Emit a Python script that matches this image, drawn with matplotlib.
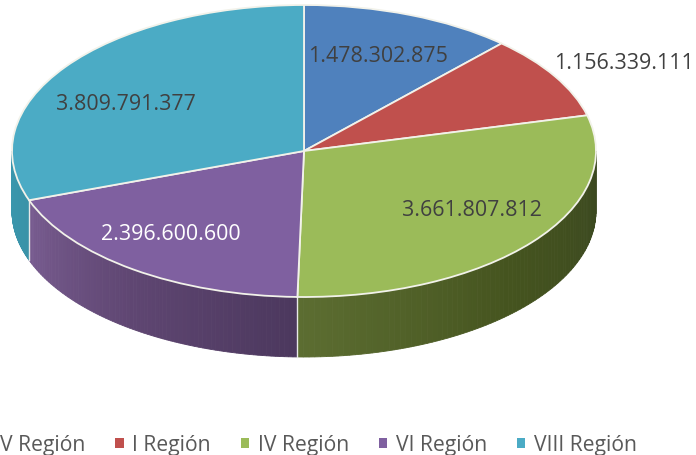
import numpy as np
import matplotlib
matplotlib.use('Agg')
import matplotlib.pyplot as plt
from matplotlib.colors import to_rgb, LinearSegmentedColormap

regions = ['V Región', 'I Región', 'IV Región', 'VI Región', 'VIII Región']
values = [1478302875, 1156339111, 3661807812, 2396600600, 3809791377]
colors = ['#4f81bd', '#c0504d', '#9bbb59', '#7f60a0', '#4babc5']
label_colors = ['#404040', '#404040', '#404040', 'white', '#404040']
# wall shading, left to right
wall_shades = [None, None, ['#5c6d31', '#45541f', '#3b4820'],
               ['#785c90', '#5f4672', '#4c385e'], ['#3a97ae', '#3a93a8']]
label_pos = [(378, 57), (624, 64), (472, 211), (171, 235), (126, 105)]

W, H = 696, 455
CX, CY, RX, RY, DEPTH = 304, 151, 292, 146, 60


def px(x, y):
    return (x - CX) / RX, (CY - y) / RY


plt.rcParams['font.family'] = ['Open Sans', 'DejaVu Sans']
fig = plt.figure(figsize=(W / 100, H / 100), dpi=100)
ax = fig.add_axes([0, 0, 1, 1])

wedges, _ = ax.pie(values, colors=colors, startangle=90, counterclock=False, radius=1,
                   wedgeprops={'linewidth': 1.3, 'edgecolor': '#f2f2ea', 'zorder': 5})
ax.set_aspect('auto')
ax.set_xlim(px(0, 0)[0], px(W, 0)[0])
ax.set_ylim(px(0, H)[1], px(0, 0)[1])
ax.axis('off')

# side wall of the visible front half
d = DEPTH / RY
for w, shade in zip(wedges, wall_shades):
    if shade is None:
        continue
    t1 = max(w.theta1, -180)
    t2 = min(w.theta2, 0)
    if t1 >= t2:
        continue
    cmap = LinearSegmentedColormap.from_list('wall', [to_rgb(c) for c in shade])
    ts = np.linspace(t1, t2, 81)
    for i in range(len(ts) - 1):
        a = np.radians(np.linspace(ts[i], ts[i + 1], 3))
        xs = np.r_[np.cos(a), np.cos(a[::-1])]
        ys = np.r_[np.sin(a), np.sin(a[::-1]) - d]
        ax.fill(xs, ys, color=cmap(i / 79), lw=0.6, zorder=2)
for w in wedges:
    # light seam between walls
    if -180 < w.theta1 < 0:
        a = np.radians(w.theta1)
        ax.plot([np.cos(a)] * 2, [np.sin(a), np.sin(a) - d], color='#e8e8e8', lw=1, zorder=3)

for val, pos, c in zip(values, label_pos, label_colors):
    x, y = px(*pos)
    ax.text(x, y, f'{val:,}'.replace(',', '.'), color=c, fontsize=15.4,
            ha='center', va='center', zorder=6)

leg = ax.legend(wedges, regions, ncols=5, frameon=False, fontsize=15.2, labelcolor='#595959',
                loc='center', bbox_to_anchor=(310 / W, 1 - 445 / H),
                handlelength=0.4, handleheight=0.4, handletextpad=0.4,
                columnspacing=1.42, borderpad=0, borderaxespad=0)
for h in leg.legend_handles:
    h.set_linewidth(0)

fig.savefig('out.png', dpi=100, facecolor='white')
